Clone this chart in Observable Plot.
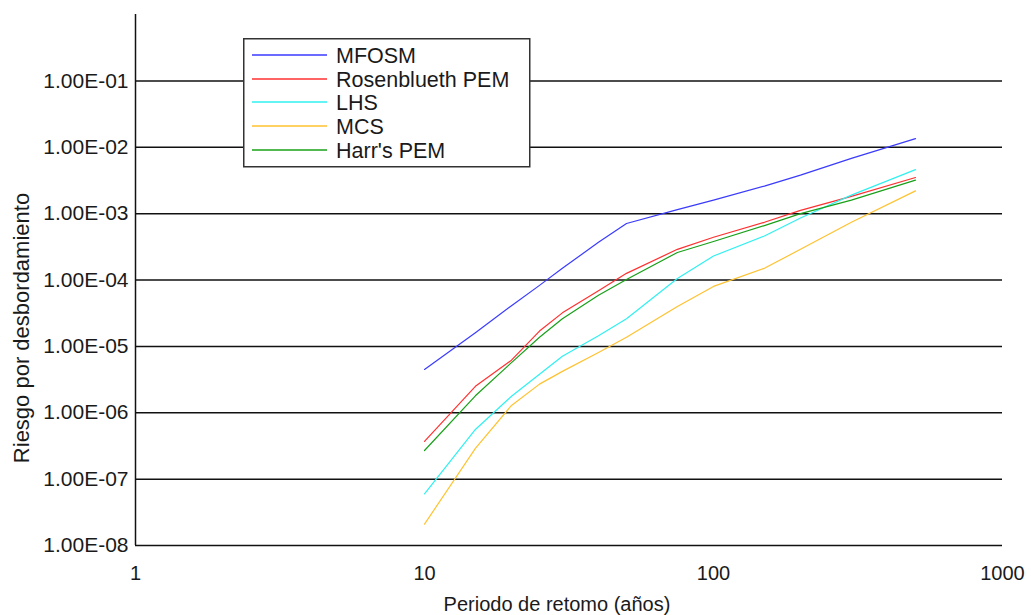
<!DOCTYPE html>
<html>
<head>
<meta charset="utf-8">
<script src="https://cdn.jsdelivr.net/npm/d3@7"></script>
<script src="https://cdn.jsdelivr.net/npm/@observablehq/plot@0.6"></script>
<style>
  html, body { margin: 0; padding: 0; background: #fff; }
  #wrap { position: relative; width: 1031px; height: 615px; font-family: "Liberation Sans", Arial, sans-serif; }
  #legend { position: absolute; left: 243px; top: 38px; }
</style>
</head>
<body>
<div id="wrap"></div>
<script>
// Return periods (years)
const periods = [10, 15, 20, 25, 30, 40, 50, 75, 100, 150, 200, 300, 500];
// Series (overtopping risk)
const mfosm       = [4.5e-6, 1.6e-5, 4.1e-5, 8.3e-5, 1.5e-4, 3.7e-4, 7.1e-4, 1.15e-3, 1.6e-3, 2.6e-3, 3.8e-3, 6.8e-3, 1.35e-2];
const rosenblueth = [3.7e-7, 2.5e-6, 6.2e-6, 1.7e-5, 3.2e-5, 6.9e-5, 1.26e-4, 2.9e-4, 4.4e-4, 7.4e-4, 1.12e-3, 1.82e-3, 3.5e-3];
const lhs         = [6.0e-8, 5.6e-7, 1.77e-6, 3.8e-6, 7.1e-6, 1.45e-5, 2.6e-5, 1.05e-4, 2.3e-4, 4.6e-4, 8.6e-4, 1.9e-3, 4.6e-3];
const mcs         = [2.1e-8, 2.9e-7, 1.29e-6, 2.7e-6, 4.2e-6, 8.1e-6, 1.37e-5, 4.0e-5, 8.0e-5, 1.5e-4, 2.9e-4, 7.4e-4, 2.2e-3];
const harr        = [2.7e-7, 1.8e-6, 5.7e-6, 1.37e-5, 2.6e-5, 5.9e-5, 1.02e-4, 2.6e-4, 3.8e-4, 6.6e-4, 1.0e-3, 1.6e-3, 3.2e-3];

const methods = ["MFOSM", "Rosenblueth PEM", "LHS", "MCS", "Harr's PEM"];
const colors  = ["#3a3aff", "#ff3030", "#30f0f0", "#ffc230", "#18a018"];
const xTicks = [1, 10, 100, 1000];
const yTicks = [1e-8, 1e-7, 1e-6, 1e-5, 1e-4, 1e-3, 1e-2, 1e-1];
const xLabel = "Periodo de retomo (años)";
const yLabel = "Riesgo por desbordamiento";

const seriesValues = [mfosm, rosenblueth, lhs, mcs, harr];
const rows = [];
methods.forEach((m, i) => periods.forEach((t, j) => rows.push({method: m, T: t, risk: seriesValues[i][j]})));

const fmtE = d => {
  const e = Math.round(Math.log10(d));
  const s = Math.abs(e) < 10 ? "0" + Math.abs(e) : String(Math.abs(e));
  return "1.00E" + (e < 0 ? "-" : "+") + s;
};

const chart = Plot.plot({
  width: 1031,
  height: 615,
  marginLeft: 135,
  marginRight: 29,
  marginTop: 14,
  marginBottom: 70,
  style: {fontFamily: "'Liberation Sans', Arial, sans-serif", fontSize: "20px", color: "#1a1a1a", background: "#fff"},
  x: {type: "log", domain: [1, 1000]},
  y: {type: "log", domain: [1e-8, 1]},
  color: {domain: methods, range: colors},
  marks: [
    Plot.ruleY(yTicks, {stroke: "#111", strokeWidth: 1.5}),
    Plot.ruleX([1], {y1: 1e-8, y2: 1, stroke: "#111", strokeWidth: 1.5}),
    Plot.line(rows, {x: "T", y: "risk", z: "method", stroke: "method", strokeWidth: 1.2}),
    Plot.axisX(xTicks, {tickSize: 0, tickPadding: 20, tickFormat: d => String(d), label: null, fontSize: 20}),
    Plot.axisY(yTicks, {tickSize: 0, tickPadding: 7, tickFormat: fmtE, label: null, fontSize: 21}),
    Plot.text([xLabel], {frameAnchor: "bottom", dx: -12, dy: 65, lineAnchor: "bottom", fontSize: 20, text: d => d})
  ]
});
document.getElementById("wrap").appendChild(chart);

// Y-axis title
d3.select(chart).append("text")
  .attr("transform", "translate(21,328) rotate(-90)")
  .attr("text-anchor", "middle").attr("dy", "0.36em")
  .attr("font-family", "'Liberation Sans', Arial, sans-serif").attr("font-size", 22)
  .attr("fill", "#1a1a1a").text(yLabel);

// Legend (framed box over the plot)
const lg = d3.select("#wrap").append("svg")
  .attr("id", "legend").attr("width", 288).attr("height", 130);
lg.append("rect").attr("x", 0.75).attr("y", 0.75).attr("width", 286).attr("height", 128)
  .attr("fill", "#fff").attr("stroke", "#333").attr("stroke-width", 1.5);
const rowY = [17, 41, 64, 88, 112];
methods.forEach((m, i) => {
  lg.append("line").attr("x1", 9).attr("x2", 84).attr("y1", rowY[i]).attr("y2", rowY[i])
    .attr("stroke", colors[i]).attr("stroke-width", 1.5);
  lg.append("text").attr("x", 93).attr("y", rowY[i]).attr("dy", "0.36em")
    .attr("font-family", "'Liberation Sans', Arial, sans-serif").attr("font-size", 21.5)
    .attr("fill", "#1a1a1a").text(m);
});
</script>
</body>
</html>
